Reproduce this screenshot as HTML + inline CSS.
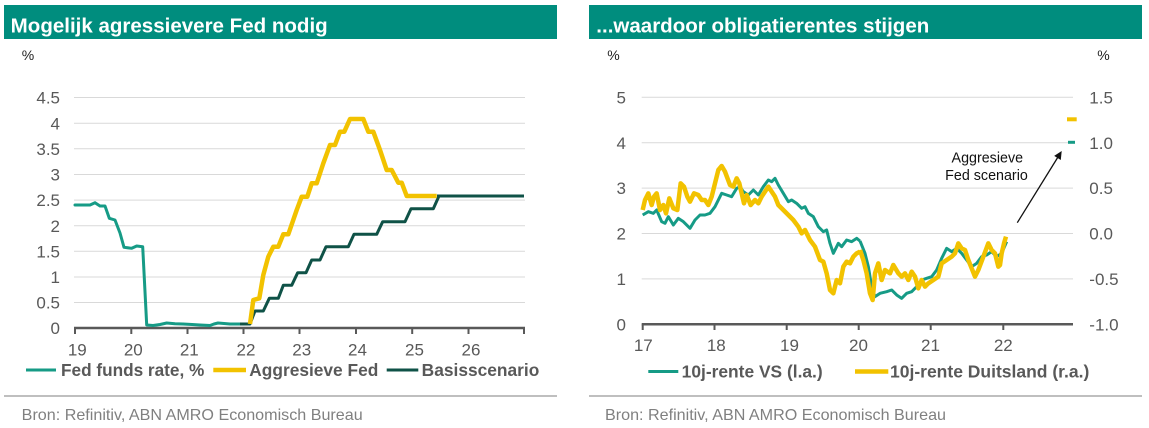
<!DOCTYPE html>
<html><head><meta charset="utf-8"><style>
html,body{margin:0;padding:0;background:#fff;}
svg{display:block;font-family:"Liberation Sans",Arial,sans-serif;}
</style></head><body>
<svg width="1149" height="428" viewBox="0 0 1149 428" xmlns="http://www.w3.org/2000/svg">
<rect width="1149" height="428" fill="#fff"/>
<!-- Headers -->
<rect x="4" y="5" width="553" height="34" fill="#008d7e"/>
<rect x="589" y="5" width="553" height="34" fill="#008d7e"/>
<text x="10.7" y="32.3" font-size="20.5" font-weight="bold" fill="#fff" textLength="317" lengthAdjust="spacingAndGlyphs">Mogelijk agressievere Fed nodig</text>
<text x="596.3" y="32.3" font-size="20.5" font-weight="bold" fill="#fff" textLength="333" lengthAdjust="spacingAndGlyphs">...waardoor obligatierentes stijgen</text>

<!-- LEFT CHART -->
<text x="21.7" y="60" font-size="14" fill="#222">%</text>
<g stroke="#d9d9d9" stroke-width="1">
<line x1="74" y1="97.5" x2="525" y2="97.5"/>
<line x1="74" y1="123.2" x2="525" y2="123.2"/>
<line x1="74" y1="148.8" x2="525" y2="148.8"/>
<line x1="74" y1="174.5" x2="525" y2="174.5"/>
<line x1="74" y1="200.1" x2="525" y2="200.1"/>
<line x1="74" y1="225.7" x2="525" y2="225.7"/>
<line x1="74" y1="251.3" x2="525" y2="251.3"/>
<line x1="74" y1="277" x2="525" y2="277"/>
<line x1="74" y1="302.5" x2="525" y2="302.5"/>
</g>
<g font-size="17" fill="#595959" text-anchor="end">
<text x="60" y="103.6">4.5</text>
<text x="60" y="129.3">4</text>
<text x="60" y="154.9">3.5</text>
<text x="60" y="180.6">3</text>
<text x="60" y="206.2">2.5</text>
<text x="60" y="231.8">2</text>
<text x="60" y="257.4">1.5</text>
<text x="60" y="283.1">1</text>
<text x="60" y="308.6">0.5</text>
<text x="60" y="334.2">0</text>
</g>
<line x1="74" y1="328" x2="525" y2="328" stroke="#595959" stroke-width="2.5"/>
<g stroke="#595959" stroke-width="2">
<line x1="75" y1="328" x2="75" y2="334"/>
<line x1="131.3" y1="328" x2="131.3" y2="334"/>
<line x1="187.5" y1="328" x2="187.5" y2="334"/>
<line x1="243.5" y1="328" x2="243.5" y2="334"/>
<line x1="299.5" y1="328" x2="299.5" y2="334"/>
<line x1="356" y1="328" x2="356" y2="334"/>
<line x1="412.2" y1="328" x2="412.2" y2="334"/>
<line x1="468.5" y1="328" x2="468.5" y2="334"/>
<line x1="524" y1="328" x2="524" y2="334"/>
</g>
<g font-size="17" fill="#595959" text-anchor="middle">
<text x="77.3" y="355.4">19</text>
<text x="133.3" y="355.4">20</text>
<text x="189.3" y="355.4">21</text>
<text x="246" y="355.4">22</text>
<text x="301.7" y="355.4">23</text>
<text x="357.5" y="355.4">24</text>
<text x="414.5" y="355.4">25</text>
<text x="471" y="355.4">26</text>
</g>
<!-- Fed funds -->
<polyline fill="none" stroke="#169b86" stroke-width="3" stroke-linejoin="round" stroke-linecap="round"
 points="75,205 90,205 95,202.7 100,206 105,206 109.3,218.3 115,220 120,233 124,247.3 131.7,248.3 136.7,246 142.7,246.7 146.7,325 153,325.5 160,324.5 166.7,323 175,323.8 183,324 192,324.5 200,325 210,325.5 214,324 218,323 224,323.5 230,324 243,324"/>
<!-- Basisscenario -->
<polyline fill="none" stroke="#0f5247" stroke-width="3" stroke-linejoin="round"
 points="240,324 250,324 255,311 263.3,311 269.3,298.3 278.3,298.3 283.3,285.3 291.7,285.3 297.7,272.7 306,272.7 311.7,260 320,260 326,246.7 348.3,246.7 354,234.3 376.7,234.3 382.7,221.7 405,221.7 411,208.7 433.3,208.7 439,196 524,196"/>
<!-- Aggressieve Fed -->
<polyline fill="none" stroke="#f2c200" stroke-width="4.5" stroke-linejoin="round"
 points="250,324 253.3,300 259.3,298.3 263.3,275 268.3,256.7 273.3,246.7 278.3,246.7 283.3,234.3 288.3,234.3 296.7,210 301.7,196.7 307.3,196.7 311.7,183.3 316.7,183.3 323.3,163.3 330,145 335,145 340,131.7 344.3,131.7 350,119 363.3,119 368.3,131.7 373.3,131.7 380,150 386.7,170 391.7,170 398.3,182.7 401.7,182.7 406.7,196 436.7,196"/>
<polyline fill="none" stroke="#0f5247" stroke-width="3" points="437,196 439,196 524,196"/>
<!-- Left legend -->
<line x1="26" y1="370" x2="56" y2="370" stroke="#169b86" stroke-width="3"/>
<text x="61" y="376" font-size="17.2" font-weight="bold" fill="#595959" textLength="143.3" lengthAdjust="spacingAndGlyphs">Fed funds rate, %</text>
<line x1="213.3" y1="370" x2="246" y2="370" stroke="#f2c200" stroke-width="4.5"/>
<text x="249.3" y="376" font-size="17.2" font-weight="bold" fill="#595959" textLength="129" lengthAdjust="spacingAndGlyphs">Aggresieve Fed</text>
<line x1="386.7" y1="370" x2="418.3" y2="370" stroke="#0f5247" stroke-width="3"/>
<text x="421.7" y="376" font-size="17.2" font-weight="bold" fill="#595959" textLength="117.6" lengthAdjust="spacingAndGlyphs">Basisscenario</text>
<!-- Separators + source -->
<line x1="4" y1="396" x2="557" y2="396" stroke="#bfbfbf" stroke-width="2"/>
<line x1="589" y1="396" x2="1142" y2="396" stroke="#bfbfbf" stroke-width="2"/>
<text x="21.7" y="420" font-size="16" fill="#808080" textLength="341" lengthAdjust="spacingAndGlyphs">Bron: Refinitiv, ABN AMRO Economisch Bureau</text>
<text x="605" y="420" font-size="16" fill="#808080" textLength="341" lengthAdjust="spacingAndGlyphs">Bron: Refinitiv, ABN AMRO Economisch Bureau</text>

<!-- RIGHT CHART -->
<text x="607.3" y="60" font-size="14" fill="#222">%</text>
<text x="1097.3" y="60" font-size="14" fill="#222">%</text>
<g stroke="#d9d9d9" stroke-width="1">
<line x1="641.7" y1="97.3" x2="1073" y2="97.3"/>
<line x1="641.7" y1="142.7" x2="1073" y2="142.7"/>
<line x1="641.7" y1="188.1" x2="1073" y2="188.1"/>
<line x1="641.7" y1="233.5" x2="1073" y2="233.5"/>
<line x1="641.7" y1="278.9" x2="1073" y2="278.9"/>
</g>
<g font-size="17" fill="#595959" text-anchor="end">
<text x="626" y="103.4">5</text>
<text x="626" y="148.8">4</text>
<text x="626" y="194.2">3</text>
<text x="626" y="239.6">2</text>
<text x="626" y="285">1</text>
<text x="626" y="330.4">0</text>
</g>
<g font-size="17" fill="#595959">
<text x="1089.3" y="103.4">1.5</text>
<text x="1089.3" y="148.8">1.0</text>
<text x="1089.3" y="194.2">0.5</text>
<text x="1089.3" y="239.6">0.0</text>
<text x="1089.3" y="285">-0.5</text>
<text x="1089.3" y="330.4">-1.0</text>
</g>
<line x1="641.7" y1="324.3" x2="1073" y2="324.3" stroke="#595959" stroke-width="2.5"/>
<g stroke="#595959" stroke-width="2">
<line x1="642.7" y1="324.3" x2="642.7" y2="330"/>
<line x1="714.5" y1="324.3" x2="714.5" y2="330"/>
<line x1="786.7" y1="324.3" x2="786.7" y2="330"/>
<line x1="858.7" y1="324.3" x2="858.7" y2="330"/>
<line x1="930.7" y1="324.3" x2="930.7" y2="330"/>
<line x1="1003.3" y1="324.3" x2="1003.3" y2="330"/>
</g>
<g font-size="17" fill="#595959" text-anchor="middle">
<text x="643.3" y="351.2">17</text>
<text x="716.3" y="351.2">18</text>
<text x="789.5" y="351.2">19</text>
<text x="858.5" y="351.2">20</text>
<text x="930.5" y="351.2">21</text>
<text x="1003.3" y="351.2">22</text>
</g>
<!-- US 10y (teal) -->
<g transform="translate(590,40) scale(0.33333)">
<polyline fill="none" stroke="#169b86" stroke-width="3" vector-effect="non-scaling-stroke" stroke-linejoin="round"
 points="158,525 175,515 190,520 200,510 215,545 225,550 235,530 250,555 265,535 280,545 300,565 315,540 330,525 345,525 360,520 375,500 395,460 410,465 425,470 440,445 450,440 460,455 475,465 490,450 505,465 520,440 535,420 545,425 555,415 565,435 580,460 595,485 605,480 620,490 635,505 645,500 655,520 670,530 685,560 700,575 710,570 720,610 730,640 745,610 755,620 770,600 785,605 800,595 810,603"/>
</g>
<g transform="translate(860,40) scale(0.33333)">
<polyline fill="none" stroke="#169b86" stroke-width="3" vector-effect="non-scaling-stroke" stroke-linejoin="round"
 points="0,603 15,640 25,680 35,740 45,770 60,760 80,755 95,750 110,765 125,775 140,760 155,755 170,740 185,720 200,715 215,710 230,690 245,655 260,625 275,635 290,625 305,640 320,660 335,680 350,670 365,650 380,645 395,635 410,650 425,640 440,605"/>
</g>
<!-- Bund 10y (yellow) -->
<g transform="translate(590,40) scale(0.33333)">
<polyline fill="none" stroke="#f2c200" stroke-width="4.5" vector-effect="non-scaling-stroke" stroke-linejoin="round"
 points="158,510 165,480 175,460 185,495 192,470 200,460 210,510 220,495 228,520 238,475 250,505 262,510 272,430 282,440 292,470 300,485 312,460 325,465 335,480 345,480 355,495 365,470 375,430 385,390 395,378 405,395 420,435 430,440 440,415 448,430 455,460 462,490 470,465 482,495 495,480 505,490 515,470 525,455 535,440 545,455 555,470 565,495 580,510 595,525 610,540 625,560 635,580 645,570 660,600 675,620 690,660 700,665 710,700 720,750 730,760 740,720 750,730 760,680 770,665 780,670 790,650 800,640 810,635"/>
</g>
<g transform="translate(860,40) scale(0.33333)">
<polyline fill="none" stroke="#f2c200" stroke-width="4.5" vector-effect="non-scaling-stroke" stroke-linejoin="round"
 points="0,630 10,660 20,700 30,760 38,780 45,700 55,670 65,720 75,690 90,700 100,675 115,700 125,710 135,700 145,720 155,695 165,710 175,745 185,720 195,740 205,730 220,720 235,710 245,670 260,660 275,650 285,640 295,610 305,625 315,630 325,660 335,685 345,710 355,690 370,650 385,610 395,630 405,640 415,680 420,675 425,640 432,610 438,590"/>
</g>
<!-- Scenario markers -->
<line x1="1067" y1="119.3" x2="1076.7" y2="119.3" stroke="#f2c200" stroke-width="4"/>
<line x1="1068" y1="142.3" x2="1075" y2="142.3" stroke="#169b86" stroke-width="3"/>
<!-- Annotation -->
<text x="987.3" y="162.4" font-size="14.3" fill="#111" text-anchor="middle">Aggresieve</text>
<text x="986.5" y="180" font-size="14.3" fill="#111" text-anchor="middle">Fed scenario</text>
<line x1="1017.3" y1="222.7" x2="1058" y2="157" stroke="#111" stroke-width="1.3"/>
<polygon points="1061.7,151 1060.8,160 1054.2,155.9" fill="#111"/>
<!-- Right legend -->
<line x1="648.3" y1="371.5" x2="678.3" y2="371.5" stroke="#169b86" stroke-width="3"/>
<text x="681.7" y="377.5" font-size="17.2" font-weight="bold" fill="#595959" textLength="141" lengthAdjust="spacingAndGlyphs">10j-rente VS (l.a.)</text>
<line x1="855" y1="371.5" x2="888.3" y2="371.5" stroke="#f2c200" stroke-width="4.5"/>
<text x="890" y="377.5" font-size="17.2" font-weight="bold" fill="#595959" textLength="199.3" lengthAdjust="spacingAndGlyphs">10j-rente Duitsland (r.a.)</text>
</svg>
</body></html>
